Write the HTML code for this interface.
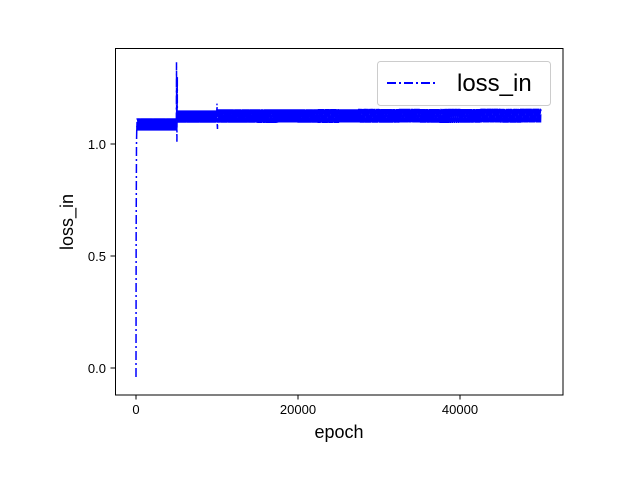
<!DOCTYPE html>
<html><head><meta charset="utf-8"><style>
body{margin:0;background:#fff}
svg{display:block;font-family:"Liberation Sans","DejaVu Sans",sans-serif}
</style></head><body>
<svg id="c" width="640" height="480">
<rect x="0" y="0" width="640" height="480" fill="#fff"/>
<g id="plot"></g>
<rect x="115.5" y="48.5" width="447.5" height="346.5" fill="none" stroke="#000" stroke-width="1"/>
<g id="axes"></g>
<text x="339" y="438" font-size="18" text-anchor="middle">epoch</text>
<text transform="translate(73,222) rotate(-90)" font-size="18" text-anchor="middle">loss_in</text>
<g>
<rect x="377.5" y="61.5" width="173" height="44" rx="3" fill="#fff" fill-opacity="0.8" stroke="#ccc"/>
<line x1="387" y1="83" x2="435" y2="83" stroke="#0000ff" stroke-width="2" stroke-dasharray="9,3,2,3"/>
<text x="457" y="91" font-size="24">loss_in</text>
</g>
</svg>
<script>
// data
const xTicks=[0,20000,40000];
const yTicks=[0.0,0.5,1.0];
const xTickLabels=["0","20000","40000"];
const yTickLabels=["0.0","0.5","1.0"];
// start of run
const startEpochs=[0,20,60,100];
const startValues=[-0.04,0.6,1.0,1.08];
// band (low/high) per chunk of 2500 epochs, 0..50000
const chunkStarts=[0,2500,5000,7500,10000,12500,15000,17500,20000,22500,25000,27500,30000,32500,35000,37500,40000,42500,45000,47500];
const bandLow=[1.06,1.06,1.095,1.095,1.095,1.095,1.094,1.096,1.095,1.094,1.096,1.095,1.095,1.096,1.095,1.094,1.095,1.096,1.095,1.096];
const bandHigh=[1.115,1.115,1.15,1.15,1.155,1.155,1.155,1.155,1.155,1.156,1.155,1.157,1.156,1.157,1.156,1.157,1.156,1.158,1.157,1.158];
// spikes
const spikeEpochs=[5000,5050,5100,10000,10060];
const spikeValues=[1.365,1.01,1.3,1.18,1.067];
const lastEpoch=50000;

const X=v=>136+(v/20000)*162;
const Y=v=>368-(v/0.5)*112;
const NS="http://www.w3.org/2000/svg";
const axes=document.getElementById('axes'),plot=document.getElementById('plot');
xTicks.forEach((t,i)=>{
  const l=document.createElementNS(NS,'line');
  l.setAttribute('x1',X(t));l.setAttribute('x2',X(t));l.setAttribute('y1',395);l.setAttribute('y2',399.5);l.setAttribute('stroke','#000');
  
  
  axes.appendChild(l);
  const tx=document.createElementNS(NS,'text');
  tx.setAttribute('x',X(t));tx.setAttribute('y',414);tx.setAttribute('font-size','13');tx.setAttribute('text-anchor','middle');tx.textContent=xTickLabels[i];
  
  
  axes.appendChild(tx);
});
yTicks.forEach((t,i)=>{
  const l=document.createElementNS(NS,'line');
  l.setAttribute('x1',110.5);l.setAttribute('x2',115);l.setAttribute('y1',Y(t));l.setAttribute('y2',Y(t));l.setAttribute('stroke','#000');
  
  
  axes.appendChild(l);
  const tx=document.createElementNS(NS,'text');
  tx.setAttribute('x',106);tx.setAttribute('y',Y(t)+5);tx.setAttribute('font-size','13');tx.setAttribute('text-anchor','end');tx.textContent=yTickLabels[i];
  
  
  axes.appendChild(tx);
});
// build path
let pts=[];
startEpochs.forEach((e,i)=>pts.push([X(e),Y(startValues[i])]));
let step=40,k=0;
for(let e=startEpochs[startEpochs.length-1];e<=lastEpoch;e+=step,k++){
  const ci=Math.min(chunkStarts.length-1,Math.floor(e/2500));
  // insert spikes
  spikeEpochs.forEach((se,si)=>{if(se>e-step&&se<=e)pts.push([X(se),Y(spikeValues[si])]);});
  pts.push([X(e),Y(k%2?bandHigh[ci]:bandLow[ci])]);
}
const p=document.createElementNS(NS,'path');
p.setAttribute('d','M'+pts.map(q=>q[0].toFixed(2)+','+q[1].toFixed(2)).join('L'));
p.setAttribute('fill','none');p.setAttribute('stroke','#0000ff');p.setAttribute('stroke-width','1.5');
p.setAttribute('stroke-dasharray','9,3,2,3');


plot.appendChild(p);
</script>
</body></html>
